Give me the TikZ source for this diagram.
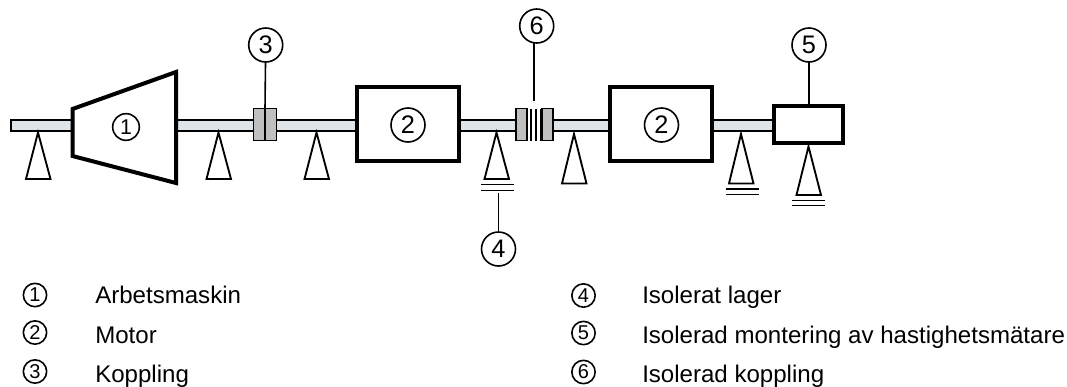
\documentclass[tikz,border=0pt]{standalone}
\usepackage{fontspec}
\setmainfont{Liberation Sans}
\newcommand{\px}{0.75pt}
\tikzset{
  x=0.75pt,y=-0.75pt,
  shaft/.style={draw=black,fill=shaftgrey,line width=1.5pt},
  machine/.style={draw=black,fill=white,line width=3pt,line join=miter},
  housing/.style={machine,rectangle,inner sep=0pt,outer sep=0pt},
  callout/.style={draw=black,fill=white,circle,line width=1.2pt,inner sep=0pt,outer sep=0pt,minimum size=25.5pt,font=\fontsize{19}{19}\selectfont},
  inlabel/.style={callout},
  keymark/.style={callout,minimum size=17.5pt,font=\fontsize{15}{15}\selectfont},
  keytext/.style={anchor=base west,inner sep=0pt,font=\fontsize{18.05}{20}\selectfont},
  leader/.style={draw=black,line width=1.2pt},
  support/.style={draw=black,fill=white,line width=1.4pt,line join=miter},
  isol/.style={draw=black,line width=1.2pt},
  hub/.style={draw=black,fill=hubgrey,rectangle,line width=1.2pt,inner sep=0pt,outer sep=0pt},
  gap/.style={draw=black,line width=1pt},
}
\definecolor{shaftgrey}{HTML}{DFE4E8}
\definecolor{hubgrey}{HTML}{BFBFBF}
\begin{document}
\begin{tikzpicture}
\useasboundingbox[fill=white] (0,0) rectangle (1067,386);
% shafts
\draw[shaft] (11,120.3) rectangle (74,130.5);
\draw[shaft] (175,120.3) rectangle (356,130.5);
\draw[shaft] (458,120.3) rectangle (517,130.5);
\draw[shaft] (552,120.3) rectangle (610,130.5);
\draw[shaft] (711,120.3) rectangle (774,130.5);
% supports
\draw[support] (38,132.5) -- (50.5,179) -- (26,179) -- cycle;
\draw[support] (218.5,132.5) -- (231,179) -- (206.5,179) -- cycle;
\draw[support] (316.5,132.5) -- (329,179) -- (304.5,179) -- cycle;
\draw[support] (496.5,132.5) -- (509,179) -- (484.5,179) -- cycle;
\draw[support] (574,134) -- (586.5,183.5) -- (562,183.5) -- cycle;
\draw[support] (741,134) -- (753.5,183.5) -- (729,183.5) -- cycle;
\draw[support] (808.5,146.5) -- (821,195) -- (796.5,195) -- cycle;
% work machine
\draw[machine] (72.5,109) -- (176,72) -- (176,183) -- (72.5,156) -- cycle;
\node[inlabel,minimum size=20pt,font=\fontsize{16}{16}\selectfont] (m1) at (126,127) {1};
% motors
\node[housing,minimum width=102*\px,minimum height=74*\px] (motorA) at (407.7,124.2) {};
\node[inlabel] (l2a) at (408,125) {2};
\node[housing,minimum width=102*\px,minimum height=74*\px] (motorB) at (661,124.2) {};
\node[inlabel] (l2b) at (661.5,125) {2};
% speedometer
\node[housing,minimum width=69*\px,minimum height=37*\px] (meter) at (808.5,124.5) {};
% coupling 3
\node[hub,minimum width=23*\px,minimum height=32*\px] (hub3) at (265,124.5) {};
\draw[line width=2.2pt] (hub3.north) -- (hub3.south);
% coupling 6
\node[hub,minimum width=10.5*\px,minimum height=32*\px] (hub6a) at (521.5,124.5) {};
\node[hub,minimum width=10.5*\px,minimum height=32*\px] (hub6b) at (547.5,124.5) {};
\draw[gap] (531,108.5) -- (531,141);
\draw[gap] (536,108.5) -- (536,141);
\draw[gap] (541,108.5) -- (541,141);
% isolation bars
\draw[isol] (481,184.5) -- (514,184.5);
\draw[isol] (481,190.5) -- (514,190.5);
\draw[isol] (726,189) -- (759,189);
\draw[isol] (726,194.5) -- (759,194.5);
\draw[isol] (792,200.5) -- (825,200.5);
\draw[isol] (792,205.5) -- (825,205.5);
% callouts
\node[callout] (c3) at (265.7,45) {3};
\node[callout] (c6) at (536.7,26) {6};
\node[callout] (c5) at (809,45) {5};
\node[callout] (c4) at (498.5,249) {4};
\coordinate (e6) at (534,100.5);
\coordinate (e4) at (498.5,192.5);
\draw[leader] (c3) -- (hub3.north);
\draw[leader] (c6.south -| e6) -- (e6);
\draw[leader] (c5) -- (meter.north -| c5);
\draw[leader] (c4) -- (e4);
% key
\node[keymark] (k1) at (35,295) {1};
\node[keymark] (k2) at (35,332.5) {2};
\node[keymark] (k3) at (35,371.5) {3};
\node[keymark] (k4) at (583.5,295.5) {4};
\node[keymark] (k5) at (583.5,333) {5};
\node[keymark] (k6) at (583.5,372) {6};
\node[keytext] (t1) at (95,303) {Arbetsmaskin};
\node[keytext] (t2) at (95,343) {Motor};
\node[keytext] (t3) at (95,382) {Koppling};
\node[keytext] (t4) at (642,303) {Isolerat lager};
\node[keytext] (t5) at (642,343) {Isolerad montering av hastighetsmätare};
\node[keytext] (t6) at (642,382) {Isolerad koppling};
\end{tikzpicture}
\end{document}
